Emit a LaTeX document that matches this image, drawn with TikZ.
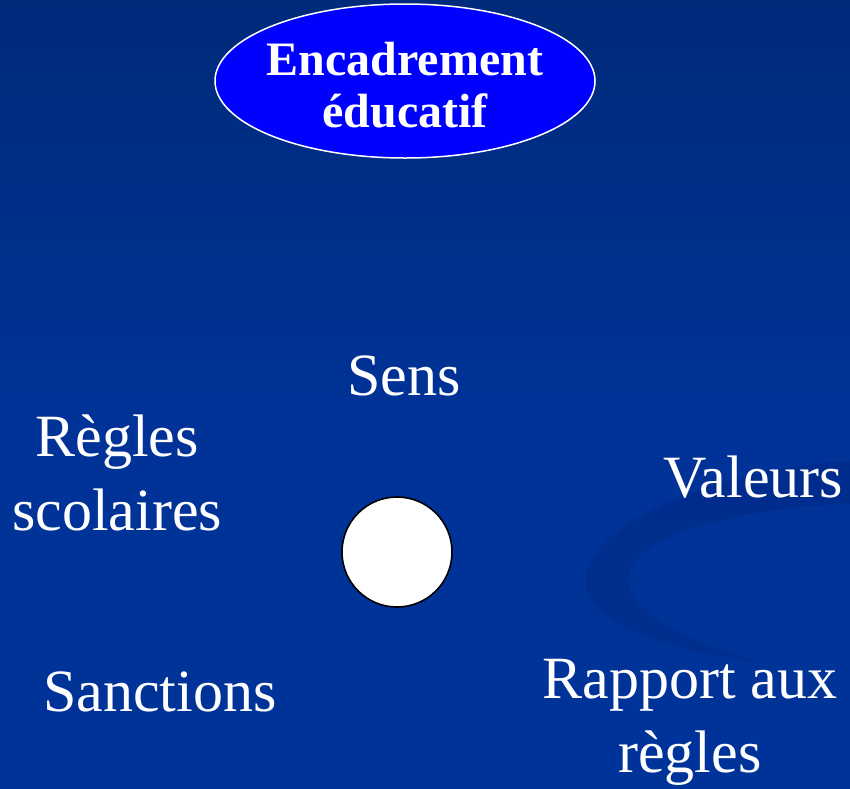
\documentclass[tikz,border=0pt]{standalone}
\usepackage{fontspec}
\setmainfont{Liberation Serif}
\usetikzlibrary{shapes.geometric}
\definecolor{bgtop}{RGB}{0,42,122}
\definecolor{bgbot}{RGB}{0,51,153}
\definecolor{swoosh}{RGB}{0,40,130}
\definecolor{ellblue}{RGB}{0,0,255}
\tikzset{
  lbl/.style={text=white, font=\fontsize{60}{74}\selectfont, align=center, inner sep=0pt, anchor=base},
  enctxt/.style={text=white, font=\bfseries\fontsize{48}{52}\selectfont, inner sep=0pt, anchor=base},
  topell/.style={ellipse, draw=white, line width=1.5pt, fill=ellblue, minimum width=380pt, minimum height=154pt, inner sep=0pt},
  dot/.style={circle, draw=black, line width=1.6pt, fill=white, minimum size=110pt, inner sep=0pt}
}
\begin{document}
\begin{tikzpicture}[x=1pt,y=-1pt]
\useasboundingbox (0,0) rectangle (850,788);
\shade[top color=bgtop, bottom color=bgbot, middle color=bgbot!92!bgtop] (0,0) rectangle (850,788);
% swoosh decoration
\fill[swoosh, opacity=0.45] (850,461) .. controls (700,470) and (585,530) .. (585,582)
  .. controls (585,620) and (660,650) .. (760,662)
  .. controls (700,645) and (628,615) .. (628,580)
  .. controls (628,540) and (720,510) .. (850,503) -- cycle;
\node[topell] (enc) at (405,81) {};
\node[enctxt] (enc1) at (405,75) {Encadrement};
\node[enctxt] (enc2) at (405,127) {éducatif};
\node[dot] (c) at (397,552) {};
\node[lbl] (sens) at (404,395) {Sens};
\node[lbl] (regles) at (117,530) {Règles\\scolaires};
\node[lbl] (valeurs) at (753,497) {Valeurs};
\node[lbl] (sanctions) at (160,711) {Sanctions};
\node[lbl] (rapport) at (690,772) {Rapport aux\\règles};
\end{tikzpicture}
\end{document}
